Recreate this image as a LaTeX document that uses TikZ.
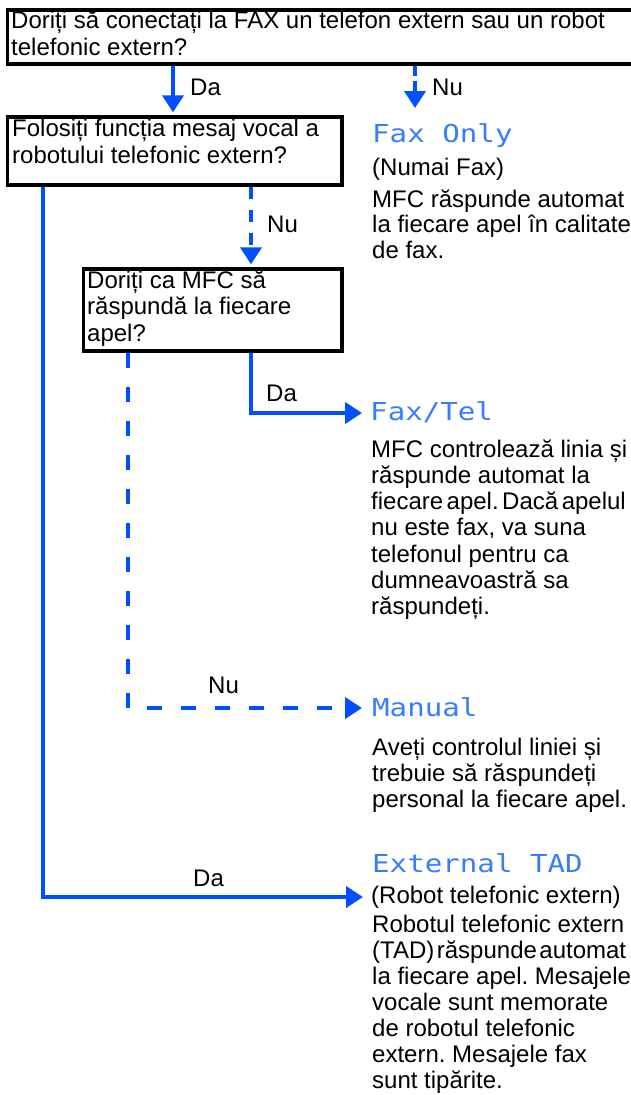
\documentclass[tikz,border=0pt]{standalone}
\usepackage{fontspec}
\setmainfont{Liberation Sans}
\newfontfamily\lcdfont{DejaVu Sans Mono}[FakeStretch=1.18]
\usetikzlibrary{arrows.meta}
\definecolor{flowblue}{RGB}{0,80,255}
\definecolor{lcdblue}{RGB}{55,125,255}
\frenchspacing
\tikzset{
  qbox/.style={draw=black, line width=3.3pt, inner sep=0pt},
  flow/.style={draw=flowblue, line width=4pt},
  flowdash/.style={flow, dash pattern=on 15pt off 19pt},
  tip/.style={-{Triangle[length=17pt,width=21pt]}},
  txt/.style={anchor=base west, inner sep=0pt, text=black, font=\fontsize{24}{26.5}\selectfont},
  lcd/.style={anchor=base west, inner sep=0pt, text=lcdblue, font=\lcdfont\fontsize{24.7}{26}\selectfont},
}
\newcommand{\lns}[2][26.3pt]{\parbox[t]{300pt}{\raggedright\setlength{\baselineskip}{#1}#2}}
\begin{document}
\begin{tikzpicture}[x=1pt,y=-1pt]
\useasboundingbox (0,0) rectangle (631,1095);
\clip (0,0) rectangle (631,1095);

% question boxes
\node[qbox, minimum width=642.5pt, minimum height=54pt] (q1) at (328.75,37) {};
\node[qbox, minimum width=334.5pt, minimum height=68pt] (q2) at (174.75,151) {};
\node[qbox, minimum width=258.5pt, minimum height=82pt] (q3) at (212.75,310) {};

\node[txt] (t1) at (11,28.5) {\parbox[t]{620pt}{\raggedright Doriți să conectați la FAX un telefon extern sau un robot\\telefonic extern?}};
\node[txt] (t2) at (12,136.5) {\parbox[t]{330pt}{\raggedright Folosiți funcția mesaj vocal a\\robotului telefonic extern?}};
\node[txt] (t3) at (87,288) {\parbox[t]{250pt}{\raggedright Doriți ca MFC să\\răspundă la fiecare\\apel?}};

% mode labels
\node[lcd] (m1) at (372,142) {Fax Only};
\node[lcd] (m2) at (370,420) {Fax/Tel};
\node[lcd] (m3) at (372,716) {Manual};
\node[lcd] (m4) at (372,872) {External TAD};

% descriptions
\node[txt] (d1a) at (372,175) {(Numai Fax)};
\node[txt] (d1) at (372,207) {\lns[25.5pt]{MFC răspunde automat\\la fiecare apel în calitate\\de fax.}};
\node[txt] (d2) at (371,457) {\lns{MFC controlează linia și\\răspunde automat la\\fiecare\hspace{3.5pt}apel.\hspace{3.5pt}Dacă\hspace{3.5pt}apelul\\nu este fax, va suna\\telefonul pentru ca\\dumneavoastră sa\\răspundeți.}};
\node[txt] (d3) at (372,755) {\lns[26pt]{Aveți controlul liniei și\\trebuie să răspundeți\\personal la fiecare apel.}};
\node[txt] (d4a) at (371,903) {(Robot telefonic extern)};
\node[txt] (d4) at (372,932) {\lns[26.1pt]{Robotul telefonic extern\\(TAD)\hspace{2.5pt}răspunde\hspace{2.5pt}automat\\la fiecare apel. Mesajele\\vocale sunt memorate\\de robotul telefonic\\extern. Mesajele fax\\sunt tipărite.}};

% yes / no labels
\node[txt] (l1) at (190,95) {Da};
\node[txt] (l2) at (432,95) {Nu};
\node[txt] (l3) at (267,232) {Nu};
\node[txt] (l4) at (266,401) {Da};
\node[txt] (l5) at (208,693) {Nu};
\node[txt] (l6) at (193,886) {Da};

% helper coordinates
\coordinate (xa) at (173,0);
\coordinate (xb) at (415,0);
\coordinate (xc) at (251,0);
\coordinate (xd) at (43,0);
\coordinate (xe) at (128,0);
\coordinate (tipNu1) at (415,108);
\coordinate (cFT) at (251,413);
\coordinate (tipFT) at (362,413);
\coordinate (cMa) at (128,708);
\coordinate (tipMa) at (362,708);
\coordinate (cTAD) at (43,897);
\coordinate (tipTAD) at (363,897);

% connectors
\draw[flow,tip,shorten >=3pt] (q1.south -| xa) -- (q2.north -| xa);
\draw[flow,tip,dash pattern=on 10pt off 5pt] (q1.south -| xb) -- (tipNu1);
\draw[flow,tip,dash pattern=on 12pt off 11pt,shorten >=3pt] (q2.south -| xc) -- (q3.north -| xc);
\draw[flow,tip] (q2.south -| xd) -- (cTAD) -- (tipTAD);
\draw[flow,tip] (q3.south -| xc) -- (cFT) -- (tipFT);
\draw[flowdash,tip] (q3.south -| xe) -- (cMa) -- (tipMa);
\end{tikzpicture}
\end{document}
